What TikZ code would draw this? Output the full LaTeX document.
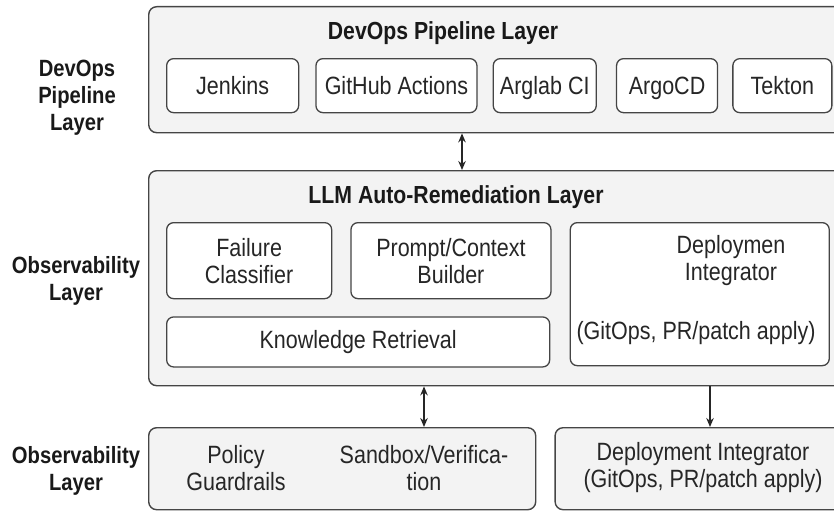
\documentclass[tikz,border=0pt]{standalone}
\usepackage{fontspec}
\setmainfont{Liberation Sans}[FakeStretch=0.86]
\usepackage{xcolor}
\usetikzlibrary{arrows.meta, positioning}

\definecolor{layerfill}{HTML}{F3F3F3}
\definecolor{edgegray}{HTML}{454545}
\definecolor{textgray}{HTML}{262626}

\begin{document}
\begin{tikzpicture}[x=1pt, y=-1pt, >={Stealth[length=9pt, width=7.5pt]},
  layer/.style={draw=edgegray, fill=layerfill, line width=1.4pt, rounded corners=8pt, inner sep=0pt, anchor=north west},
  comp/.style={draw=edgegray, fill=white, line width=1.3pt, rounded corners=7pt, inner sep=0pt},
  txt/.style={text=textgray, font=\fontsize{25}{27}\selectfont, align=center, inner sep=0pt},
  tool/.style={comp, txt, minimum height=54pt, text height=19pt, text depth=1pt},
  head/.style={text=black!90, font=\bfseries\fontsize{23.5}{27}\selectfont, align=center, inner sep=0pt},
  title/.style={head, font=\bfseries\fontsize{24.7}{27}\selectfont},
  link/.style={draw=black!85, line width=1.3pt}]

\useasboundingbox (0,0) rectangle (834,511);

% Define layers
\node[layer, minimum width=700pt, minimum height=126pt] (devopslayer) at (148,6) {};
\node[layer, minimum width=700pt, minimum height=215pt] (llmlayer) at (148,170) {};
\node[layer, minimum width=387pt, minimum height=82pt] (guardlayer) at (148,427) {};
\node[layer, minimum width=300pt, minimum height=82pt, right=18pt of guardlayer] (deploylayer) {};

% Side labels
\node[head] (devopsside) at (77,98) {DevOps\\Pipeline\\Layer};
\node[head] (obsside) at (76,281) {Observability\\Layer};
\node[head] (obssidelow) at (76,471) {Observability\\Layer};

% Layer titles
\node[title] (devopstitle) at (443,33) {DevOps Pipeline Layer};
\node[title] (llmtitle) at (456,197) {LLM Auto-Remediation Layer};

% CI/CD tools
\node[tool, minimum width=132pt, anchor=north west] (jenkins) at (166,58) {Jenkins};
\node[tool, minimum width=161pt, right=16pt of jenkins] (ghactions) {GitHub Actions};
\node[tool, minimum width=103pt, right=15pt of ghactions] (arglab) {Arglab CI};
\node[tool, minimum width=101pt, right=19pt of arglab] (argocd) {ArgoCD};
\node[tool, minimum width=99pt, right=14pt of argocd] (tekton) {Tekton};

% Remediation components
\node[comp, txt, minimum width=165pt, minimum height=76pt, anchor=north west] (classifier) at (166,222) {Failure\\Classifier};
\node[comp, txt, minimum width=200pt, minimum height=76pt, right=18pt of classifier] (prompt) {Prompt/Context\\Builder};
\node[comp, txt, minimum width=383pt, minimum height=50pt, below=17pt of classifier.south west, anchor=north west] (retrieval) {Knowledge Retrieval};
\node[comp, minimum width=259pt, minimum height=143pt, right=18pt of prompt.north east, anchor=north west] (integrator) {};
\node[txt] (integratorname) at (731,261) {Deploymen\\Integrator};
\node[txt] (integratornote) at (696,333) {(GitOps, PR/patch apply)};

% Bottom layer texts
\node[txt] (guardrails) at (236,468) {Policy\\Guardrails};
\node[txt] (sandbox) at (424,468) {Sandbox/Verifica-\\tion};
\node[txt] (deploytext) at (703,468) {Deployment Integrator\\(GitOps, PR/patch apply)};

% Draw arrows between layers
\draw[link, <->] (devopslayer.south -| 462,0) -- (llmlayer.north -| 462,0);
\draw[link, <->] (llmlayer.south -| 424,0) -- (guardlayer.north -| 424,0);
\draw[link, ->] (llmlayer.south -| 710,0) -- (deploylayer.north -| 710,0);

\end{tikzpicture}
\end{document}
